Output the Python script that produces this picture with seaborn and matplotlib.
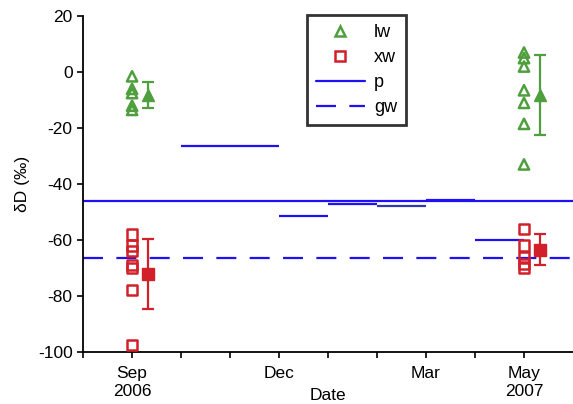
import pandas as pd
import matplotlib
matplotlib.use("Agg")
import matplotlib.pyplot as plt
from matplotlib.lines import Line2D
import seaborn as sns

# x = months since Sep 2006 (Sep 2006 = 0, May 2007 = 8)
lw_sep = [-1.5, -6, -7.5, -12, -13.5]
xw_sep = [-58, -62, -64, -69, -70, -78, -97.5]
lw_may = [7, 5, 2, -6.5, -11, -18.5, -33]
xw_may = [-56, -62, -66, -68.5, -70]

mean_x = [0.33, 8.33]
lw_mean = [-8.1, -8.2]
lw_err = [4.6, 14.2]
xw_mean = [-72, -63.5]
xw_err = [12.5, 5.5]

# monthly precipitation segments
p_start = [1, 3, 4, 5, 6, 7]
p_end = [3, 4, 5, 6, 7, 8]
p_val = [-26.5, -51.5, -47.3, -48, -45.6, -60]
p_mean = -46.2
gw_mean = -66.5

tick_pos = list(range(-1, 9))
tick_lab = ["", "Sep\n2006", "", "", "Dec", "", "", "Mar", "", "May\n2007"]

green = "#4f9f3f"
red = "#d2202a"
blue = "#2010f5"
seg_colors = [blue, blue, blue, "#3535b0", blue, blue]

lw_df = pd.DataFrame({"x": [0] * len(lw_sep) + [8] * len(lw_may), "dD": lw_sep + lw_may})
xw_df = pd.DataFrame({"x": [0] * len(xw_sep) + [8] * len(xw_may), "dD": xw_sep + xw_may})

sns.set_style("ticks")
plt.rcParams["font.family"] = ["Liberation Sans", "DejaVu Sans"]
plt.rcParams["axes.unicode_minus"] = False
plt.rcParams["text.color"] = "black"
plt.rcParams["axes.labelcolor"] = "black"

fig = plt.figure(figsize=(5.73, 4.04), dpi=100)
ax = fig.add_axes([0.145, 0.129, 0.855, 0.831])

ax.axhline(p_mean, color=blue, lw=1.6, zorder=1)
ax.axhline(gw_mean, color=blue, lw=1.6, dashes=(9, 6), zorder=1)
ax.hlines(p_val, p_start, p_end, colors=seg_colors, lw=1.6, zorder=2)

sns.scatterplot(data=lw_df, x="x", y="dD", marker="^", s=55, facecolor="none",
                edgecolor=green, linewidth=1.8, ax=ax, zorder=3)
sns.scatterplot(data=xw_df, x="x", y="dD", marker="s", s=55, facecolor="none",
                edgecolor=red, linewidth=1.8, ax=ax, zorder=3)

ax.errorbar(mean_x, lw_mean, yerr=lw_err, fmt="^", color=green, ms=9,
            elinewidth=1.6, capsize=4, capthick=1.6, zorder=4)
ax.errorbar(mean_x, xw_mean, yerr=xw_err, fmt="s", color=red, ms=8,
            elinewidth=1.6, capsize=4, capthick=1.6, zorder=4)

ax.set_xlim(-1, 9)
ax.set_ylim(-100, 20)
ax.set_yticks(range(-100, 21, 20))
ax.set_xticks(tick_pos)
ax.set_xticklabels(tick_lab)
ax.tick_params(axis="both", labelsize=12.5, length=4, width=1.2, direction="out",
               colors="black")
ax.tick_params(axis="x", pad=6)
for lbl in ax.get_xticklabels():
    lbl.set_linespacing(1.25)
ax.set_xlabel("Date", fontsize=12.5)
ax.xaxis.set_label_coords(0.5, -0.107)
ax.set_ylabel("δD (‰)", fontsize=12.5, labelpad=6)
for s in ["left", "bottom"]:
    ax.spines[s].set_linewidth(1.3)
    ax.spines[s].set_color("black")
sns.despine(ax=ax)

handles = [
    Line2D([], [], marker="^", ls="", mfc="none", mec=green, mew=1.8, ms=7),
    Line2D([], [], marker="s", ls="", mfc="none", mec=red, mew=1.8, ms=7),
    Line2D([], [], color=blue, lw=1.6),
    Line2D([], [], color=blue, lw=1.6, dashes=(9, 6)),
]
leg = ax.legend(handles, ["lw", "xw", "p", "gw"], loc="upper left",
                bbox_to_anchor=(0.457, 1.004), fontsize=13, frameon=True,
                fancybox=False, handlelength=2.7, labelspacing=0.45,
                handletextpad=0.5, borderpad=0.5, borderaxespad=0)
leg.get_frame().set_edgecolor("black")
leg.get_frame().set_linewidth(2)

fig.savefig("out.png", dpi=100)
